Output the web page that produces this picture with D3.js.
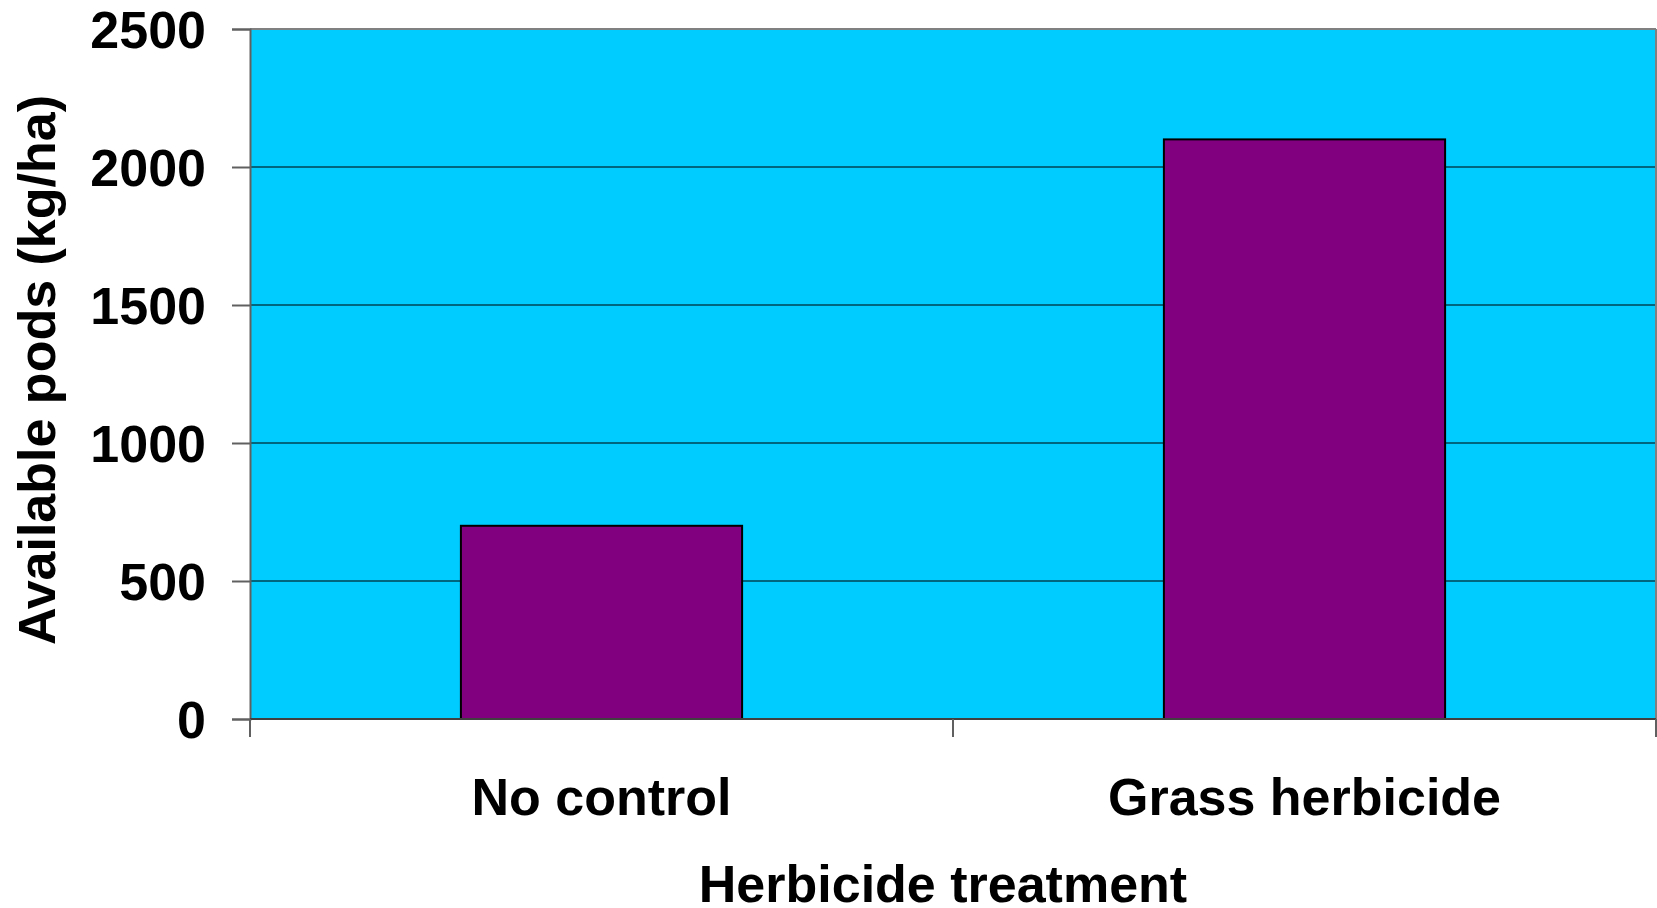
<!DOCTYPE html>
<html>
<head>
<meta charset="utf-8">
<script src="https://cdn.jsdelivr.net/npm/d3@7"></script>
<style>
  html, body { margin: 0; padding: 0; background: #ffffff; }
  svg { display: block; }
  text { font-family: "Liberation Sans", Arial, sans-serif; font-weight: bold; fill: #000; }
</style>
</head>
<body>
<svg id="chart" width="1657" height="908"></svg>
<script>
const categories = ["No control", "Grass herbicide"];
const podValues = [700, 2100];
const yTicks = [0, 500, 1000, 1500, 2000, 2500];
const yLabel = "Available pods (kg/ha)";
const xLabel = "Herbicide treatment";

const W = 1657, H = 908;
const margin = { left: 250, top: 29, right: 1, bottom: 189 };
const pw = W - margin.left - margin.right;
const ph = H - margin.top - margin.bottom;

const svg = d3.select("#chart");
const g = svg.append("g").attr("transform", `translate(${margin.left},${margin.top})`);

const x = d3.scaleBand().domain(categories).range([0, pw]).paddingInner(0.6).paddingOuter(0.3);
const xCat = d3.scaleBand().domain(categories).range([0, pw]).padding(0);
const y = d3.scaleLinear().domain([0, 2500]).range([ph, 0]);

// plot background
g.append("rect").attr("x", 0).attr("y", 0).attr("width", pw).attr("height", ph).attr("fill", "#00CCFF");

// gridlines
g.selectAll("line.grid").data(yTicks.filter(t => t > 0 && t < 2500)).enter().append("line")
  .attr("class", "grid")
  .attr("x1", 0).attr("x2", pw)
  .attr("y1", d => y(d)).attr("y2", d => y(d))
  .attr("stroke", "#000").attr("stroke-width", 1);

// border top & right
g.append("line").attr("x1", 0).attr("x2", pw).attr("y1", 0).attr("y2", 0).attr("stroke", "#808080").attr("stroke-width", 2);
g.append("line").attr("x1", pw).attr("x2", pw).attr("y1", 0).attr("y2", ph).attr("stroke", "#808080").attr("stroke-width", 2);

// bars
g.selectAll("rect.bar").data(categories).enter().append("rect")
  .attr("class", "bar")
  .attr("x", d => x(d))
  .attr("width", x.bandwidth())
  .attr("y", (d, i) => y(podValues[i]))
  .attr("height", (d, i) => y(0) - y(podValues[i]))
  .attr("fill", "#800080")
  .attr("stroke", "#000").attr("stroke-width", 2);

// y axis
const yAxis = d3.axisLeft(y).tickValues(yTicks).tickSize(18).tickPadding(26).tickFormat(d3.format("d"));
const ya = g.append("g").call(yAxis);
ya.select(".domain").attr("stroke", "#606060").attr("stroke-width", 2);
ya.selectAll(".tick line").attr("stroke", "#606060").attr("stroke-width", 2);
ya.selectAll(".tick text").style("font-size", "52px").attr("font-family", null).attr("font-size", null).attr("dy", "0.356em");

// x axis: ticks at category boundaries
const boundaries = [0, xCat(categories[1]), pw];
g.append("line").attr("x1", 0).attr("x2", pw).attr("y1", ph).attr("y2", ph).attr("stroke", "#404040").attr("stroke-width", 2);
g.selectAll("line.xtick").data(boundaries).enter().append("line")
  .attr("class", "xtick")
  .attr("x1", d => d).attr("x2", d => d)
  .attr("y1", ph).attr("y2", ph + 18)
  .attr("stroke", "#606060").attr("stroke-width", 2);

g.selectAll("text.xcat").data(categories).enter().append("text")
  .attr("class", "xcat")
  .attr("x", d => xCat(d) + xCat.bandwidth() / 2)
  .attr("y", ph + 96)
  .attr("text-anchor", "middle")
  .style("font-size", "52px")
  .text(d => d);

// axis titles
svg.append("text")
  .attr("x", 943).attr("y", 902)
  .attr("text-anchor", "middle")
  .style("font-size", "52px")
  .text(xLabel);

svg.append("text")
  .attr("transform", `translate(55,${370}) rotate(-90)`)
  .attr("text-anchor", "middle")
  .style("font-size", "52px")
  .text(yLabel);
</script>
</body>
</html>
